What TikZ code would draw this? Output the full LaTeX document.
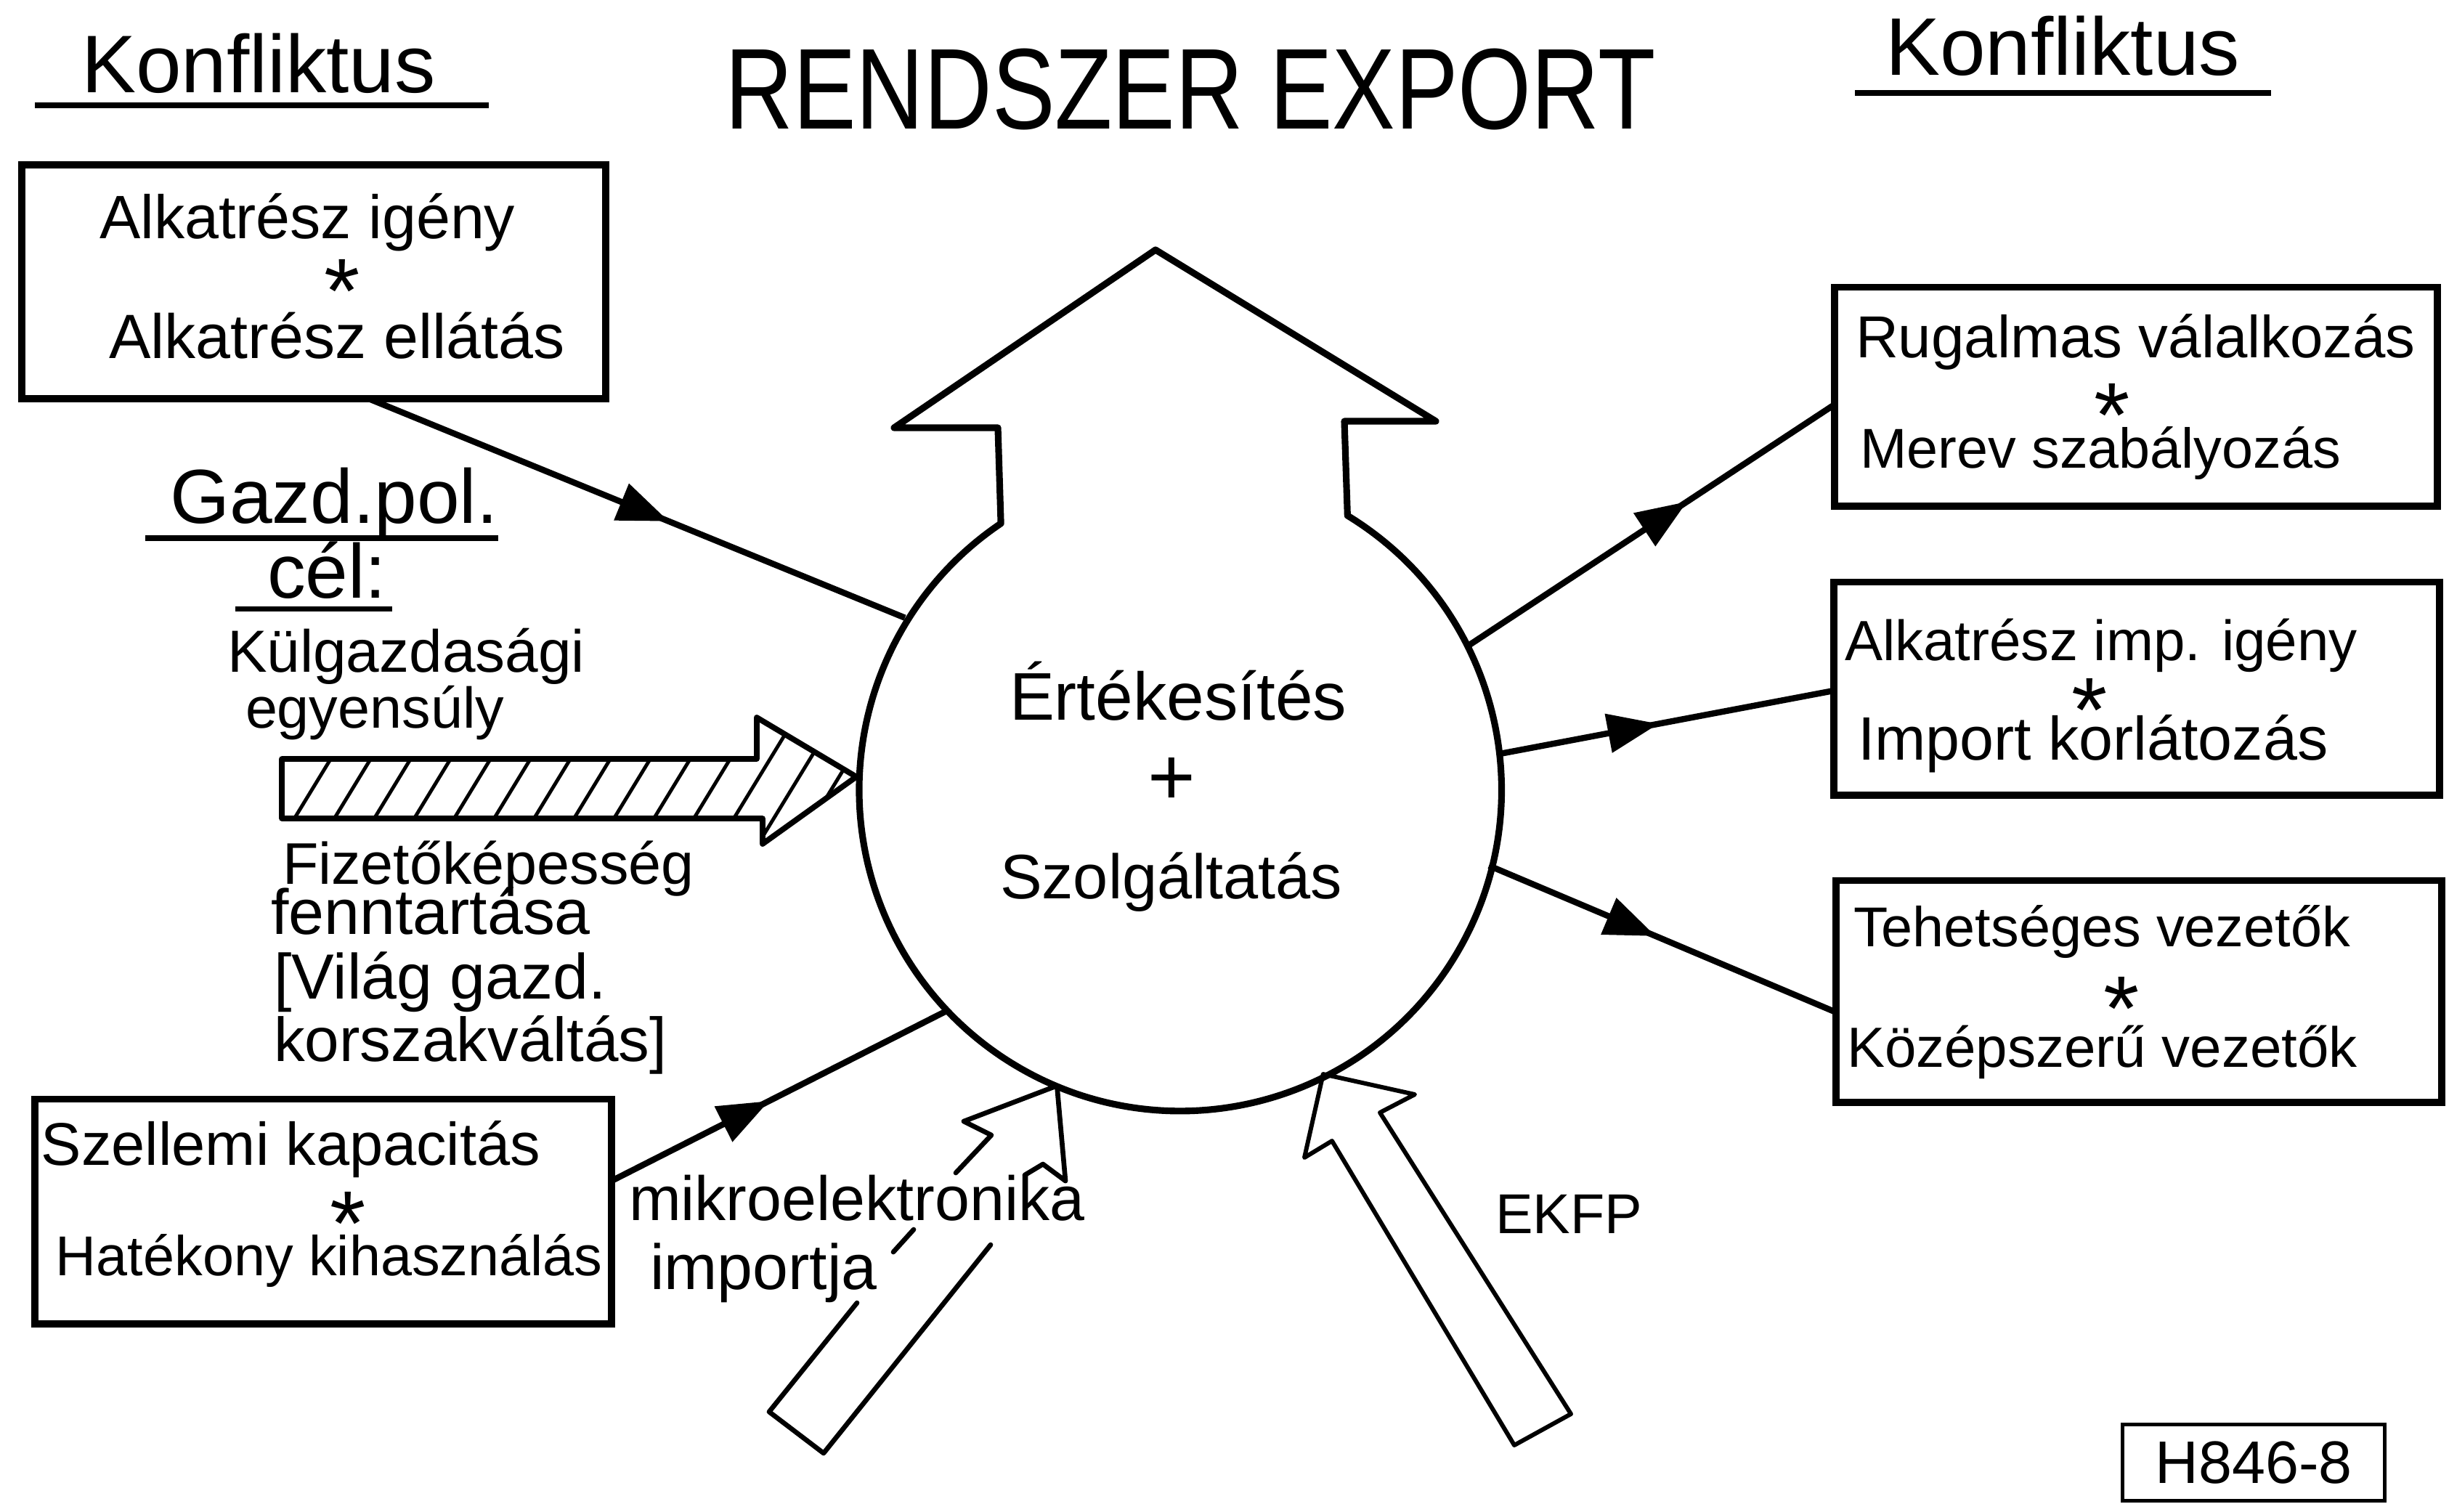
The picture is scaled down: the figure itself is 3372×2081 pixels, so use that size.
\documentclass[tikz,border=0pt]{standalone}
\usepackage{fontspec}
\setmainfont{Liberation Sans}
\usepackage{graphicx}
\usetikzlibrary{calc,arrows.meta,decorations.markings}
\tikzset{
  fs/.style={font=\fontsize{#1}{#1}\selectfont},
  lbl/.style={inner sep=0pt, outer sep=0pt, anchor=base west},
  starnode/.style={inner sep=0pt, outer sep=0pt, anchor=north, font=\fontsize{36}{36}\selectfont},
  box/.style={draw, line width=2.8pt, inner sep=0pt, outer sep=0pt},
  conn/.style={line width=2.4pt},
  midarrow/.style={postaction={decorate}, decoration={markings, mark=at position #1 with {\arrow{Triangle[length=20pt,width=15pt]}}}},
  heavy/.style={line width=2.6pt, line join=round},
  openarrow/.style={line width=1.9pt, line join=round, line cap=round},
  uline/.style={line width=2pt},
  hatchline/.style={line width=1.4pt},
}
\begin{document}
\begin{tikzpicture}[x=0.01cm, y=-0.01cm]
\useasboundingbox (0,0) rectangle (3372,2081);

% ---- headings
\node[inner sep=0pt, fs=45] (title) at (1639,123) {\scalebox{0.82}[1]{RENDSZER EXPORT}};
\node[lbl, fs=32] (konfl) at (112,127) {Konfliktus};
\draw[uline] (48,145) -- (673,145);
\node[lbl, fs=32] (konfr) at (2596,103) {Konfliktus};
\draw[uline] (2554,128) -- (3127,128);

% ---- central circle with big arrow
\node[circle, minimum size=8.84cm, inner sep=0pt, outer sep=0pt] (circ) at (1621,1085) {};
\draw[heavy] (circ.58.64) arc[start angle=58.64, end angle=-236.03, radius=4.42cm]
   -- (1374,589) -- (1231,589) -- (1591,344) -- (1977,580) -- (1851,580) -- cycle;
\node[lbl, fs=26.4] (ert) at (1390,991) {Értékesítés};
\node[inner sep=0pt, fs=32] (plus) at (1613,1076) {+};
\node[lbl, fs=24.6] (szolg) at (1377,1237) {Szolgáltatás};

% ---- left boxes
\node[box, minimum width=8.03cm, minimum height=3.21cm] (b1) at (432,388) {};
\node[lbl, fs=24] at (137,328) {Alkatrész igény};
\node[starnode] at (471,357) {*};
\node[lbl, fs=24.5] at (150,493) {Alkatrész ellátás};

\node[box, minimum width=7.94cm, minimum height=3.09cm] (b2) at (445,1668) {};
\node[lbl, fs=23.6] at (57,1604) {Szellemi kapacitás};
\node[starnode] at (479,1641) {*};
\node[lbl, fs=22] at (77,1756) {Hatékony kihasználás};

% ---- right boxes
\node[box, minimum width=8.30cm, minimum height=3.01cm] (r1) at (2941,546) {};
\node[lbl, fs=23.2] at (2555,492) {Rugalmas válalkozás};
\node[starnode] at (2908,528) {*};
\node[lbl, fs=22] at (2561,644) {Merev szabályozás};

\node[box, minimum width=8.33cm, minimum height=2.93cm] (r2) at (2942,948) {};
\node[lbl, fs=22.2] at (2540,909) {Alkatrész imp. igény};
\node[starnode] at (2877,934) {*};
\node[lbl, fs=24] at (2558,1046) {Import korlátozás};

\node[box, minimum width=8.33cm, minimum height=3.05cm] (r3) at (2945,1365) {};
\node[lbl, fs=22] at (2552,1303) {Tehetséges vezetők};
\node[starnode] at (2921,1345) {*};
\node[lbl, fs=22.2] at (2543,1469) {Középszerű vezetők};

% ---- connectors
\draw[conn, midarrow=0.56] ($(b1.south west)!0.593!(b1.south east)$) -- (circ.148.9);
\draw[conn, midarrow=0.47] ($(b2.north east)!0.364!(b2.south east)$) -- (circ.224.6);
\draw[conn, midarrow=0.6] (circ.26.6) -- ($(r1.north west)!0.537!(r1.south west)$);
\draw[conn, midarrow=0.48] (circ.6.3) -- ($(r2.north west)!0.51!(r2.south west)$);
\draw[conn, midarrow=0.48] (circ.-14.4) -- ($(r3.north west)!0.595!(r3.south west)$);

% ---- economic policy goal
\node[lbl, fs=30] (gazd) at (234,720) {Gazd.pol.};
\draw[uline] (200,741) -- (686,741);
\node[lbl, fs=30] (cel) at (368,823) {cél:};
\draw[uline] (324,838) -- (540,838);
\node[lbl, fs=23.3] at (313,925) {Külgazdasági};
\node[lbl, fs=22.5] at (338,1002) {egyensúly};

% hatched arrow
\coordinate (htip) at (circ.178.7);
\begin{scope}
  \clip (388,1045) -- (1042,1045) -- (1042,988) -- (htip) -- (1050,1162) -- (1050,1127) -- (388,1127) -- cycle;
  \foreach \x in {373,428,...,1250} \draw[hatchline] (\x,1180) -- ++(122,-200);
\end{scope}
\draw[line width=2.2pt, line join=round] (388,1045) -- (1042,1045) -- (1042,988) -- (htip) -- (1050,1162) -- (1050,1127) -- (388,1127) -- cycle;

\node[lbl, fs=23] at (389,1217) {Fizetőképesség};
\node[lbl, fs=25] at (373,1286) {fenntartása};
\node[lbl, fs=25] at (377,1375) {[Világ gazd.};
\node[lbl, fs=24.3] at (377,1461) {korszakváltás]};

% ---- microelectronics import arrow
\coordinate (mtip) at (circ.248);
\draw[openarrow] (1316,1615) -- (1365,1563) -- (1327,1544) -- (mtip) -- (1467,1626) -- (1436,1603) -- (1411,1618);
\draw[openarrow] (1258,1693) -- (1230,1724);
\draw[openarrow] (1180,1794) -- (1059,1944) -- (1134,2001) -- (1364,1714);
\node[lbl, fs=24.5] (mikro) at (866,1680) {mikroelektronika};
\node[lbl, fs=25] (imp) at (895,1775) {importja};

% ---- EKFP arrow
\coordinate (etip) at (circ.297);
\draw[line width=1.7pt, line join=round] (etip) -- (1948,1507) -- (1900,1532) -- (2163,1947) -- (2085,1990) -- (1834,1571) -- (1796,1594) -- cycle;
\node[lbl, fs=22] (ekfp) at (2059,1698) {EKFP};

% ---- figure code
\node[draw, line width=1.4pt, minimum width=3.6cm, minimum height=1.05cm, inner sep=0pt, fs=23.5] (code) at (3103,2014) {H846-8};
\end{tikzpicture}
\end{document}
